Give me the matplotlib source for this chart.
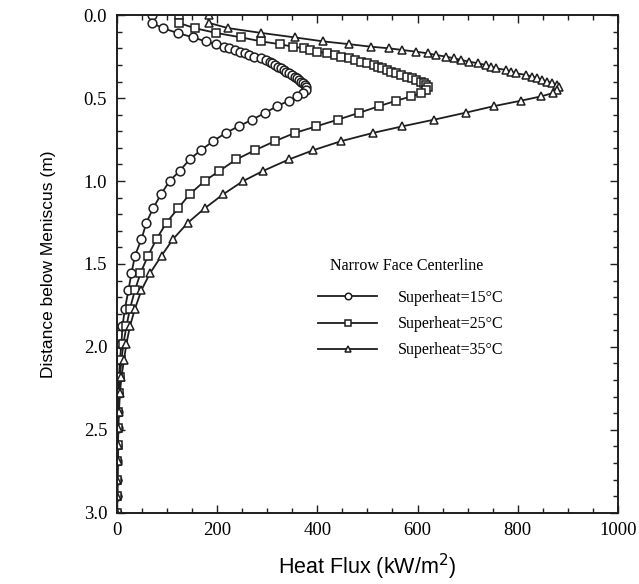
import matplotlib
matplotlib.use("Agg")
import matplotlib.pyplot as plt
from matplotlib.ticker import MultipleLocator, FormatStrFormatter

# depth below meniscus (m), shared by the three runs
depth = [0.0, 0.046, 0.078, 0.107, 0.134, 0.158, 0.175,
         0.19, 0.20, 0.21, 0.22, 0.23, 0.24, 0.25, 0.26, 0.27, 0.28,
         0.29, 0.30, 0.31, 0.32, 0.33, 0.34, 0.35, 0.36, 0.37, 0.38,
         0.39, 0.40, 0.41, 0.42, 0.435, 0.45, 0.47, 0.49, 0.516, 0.548,
         0.588, 0.63, 0.67, 0.71, 0.76, 0.815, 0.87, 0.94, 1.0, 1.08,
         1.165, 1.25, 1.35, 1.45, 1.556, 1.657, 1.77, 1.875, 1.98, 2.08,
         2.18, 2.28, 2.39, 2.49, 2.59, 2.69, 2.80, 2.90, 3.0]

# heat flux (kW/m2)
sh15 = [70, 70, 91, 121, 152, 177, 197,
        213, 224, 235, 245, 255, 264, 274, 288, 297, 305,
        310, 316, 321, 327, 333, 338, 344, 350, 355, 359,
        364, 368, 371, 375, 378, 377, 371, 360, 343, 320,
        296, 270, 243, 217, 192, 167, 145, 125, 105, 88,
        72, 59, 49, 36, 29, 23, 16, 11, 9, 6,
        4, 3, 2, 2, 1, 1, 1, 0, 0]
sh25 = [123, 123, 155, 198, 248, 288, 325,
        351, 374, 386, 400, 420, 435, 448, 464, 475, 487,
        500, 514, 522, 530, 539, 547, 557, 567, 578, 588,
        597, 607, 613, 617, 620, 616, 607, 587, 557, 524,
        484, 441, 398, 355, 315, 275, 238, 204, 175, 145,
        122, 99, 79, 62, 47, 36, 26, 19, 13, 9,
        6, 4, 3, 2, 2, 1, 1, 1, 0]
sh35 = [183, 183, 222, 288, 355, 412, 464,
        507, 544, 570, 597, 620, 637, 657, 673, 687, 703,
        720, 736, 746, 756, 776, 786, 796, 816, 828, 839,
        849, 859, 869, 879, 882, 878, 870, 846, 806, 753,
        696, 633, 570, 511, 447, 391, 343, 291, 252, 212,
        175, 142, 112, 89, 66, 49, 36, 26, 19, 14,
        9, 6, 4, 3, 2, 2, 1, 1, 0]

labels = ["Superheat=15\u00b0C", "Superheat=25\u00b0C", "Superheat=35\u00b0C"]

fig = plt.figure(figsize=(6.39, 5.84), dpi=100)
ax = fig.add_axes([0.183, 0.122, 0.784, 0.852])

ink = "#1e1e1e"
common = dict(color=ink, lw=1.3, mew=1.1, mec=ink, ms=6.3)
ax.plot(sh15, depth, marker="o", mfc="white", label=labels[0], **common)
ax.plot(sh25, depth, marker="s", mfc="white", label=labels[1], **common)
ax.plot(sh35, depth, marker="^", mfc="white", label=labels[2], **common)

ax.set_xlim(0, 1000)
ax.set_ylim(3.0, 0.0)
ax.xaxis.set_major_locator(MultipleLocator(200))
ax.xaxis.set_minor_locator(MultipleLocator(50))
ax.yaxis.set_major_locator(MultipleLocator(0.5))
ax.yaxis.set_minor_locator(MultipleLocator(0.1))
ax.yaxis.set_major_formatter(FormatStrFormatter("%.1f"))
ax.tick_params(which="both", direction="in", top=True, right=True,
               color=ink, width=1.0)
ax.tick_params(which="major", length=6, labelsize=13.5, pad=7)
ax.tick_params(which="minor", length=3.5)
for lab in ax.get_xticklabels() + ax.get_yticklabels():
    lab.set_family("Liberation Serif")
for s in ax.spines.values():
    s.set_linewidth(1.4)
    s.set_color(ink)

ax.set_xlabel("Heat Flux (kW/m$^2$)", family="Liberation Sans",
              fontsize=15.5, labelpad=9)
ax.set_ylabel("Distance below Meniscus (m)", family="Liberation Sans",
              fontsize=12.5, labelpad=20)

fig.text(330 / 639, 1 - 266 / 584, "Narrow Face Centerline",
         family="Liberation Serif", fontsize=11.5, va="center", ha="left")
leg = ax.legend(loc="upper left", bbox_to_anchor=(310 / 639, 1 - 282 / 584),
                bbox_transform=fig.transFigure, frameon=False, borderpad=0,
                handlelength=3.7, handletextpad=1.3, labelspacing=0.64,
                markerscale=0.75, prop={"family": "Liberation Serif", "size": 11.5})

fig.savefig("out.png", dpi=100)
